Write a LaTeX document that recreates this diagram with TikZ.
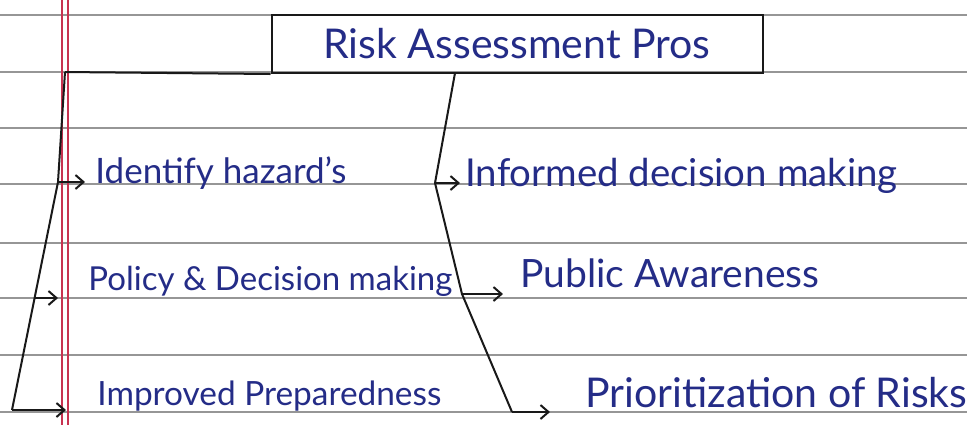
\documentclass[tikz,border=0pt]{standalone}
\usepackage{fontspec}
\setmainfont{Lato}
\usetikzlibrary{arrows.meta}
\definecolor{ink}{RGB}{36,44,135}
\definecolor{rulegray}{RGB}{150,150,150}
\definecolor{marginred}{RGB}{200,50,80}
\definecolor{pen}{RGB}{25,25,25}
\begin{document}
\begin{tikzpicture}[x=0.5pt,y=-0.5pt,
  ruling/.style={rulegray, line width=1pt},
  conn/.style={pen, line width=1pt},
  arr/.style={conn, -{Straight Barb[length=4pt,width=7pt]}},
  item/.style={anchor=base west, inner sep=0pt, text=ink},
  fs/.style={font=\fontsize{#1}{#1}\selectfont},
]
\fill[white] (0,0) rectangle (967,425);
\useasboundingbox (0,0) rectangle (967,425);
\foreach \yy in {15,72,128,184,243,298,355,412} \draw[ruling] (0,\yy) -- (967,\yy);
\draw[marginred, line width=0.8pt] (62,0) -- (62,425) (68,0) -- (68,425);

\node[draw=pen, line width=1pt, minimum width=245.5pt, minimum height=29pt, inner sep=0pt,
      text=ink, fs=20.5] (title) at (517,44) {Risk Assessment Pros};

\node[item, fs=17.5] (ident) at (95,183) {Identify hazard's};
\node[item, fs=19.2] (inform) at (465,186) {Informed decision making};
\node[item, fs=16.5] (policy) at (88,290) {Policy \& Decision making};
\node[item, fs=19.5] (public) at (520,287) {Public Awareness};
\node[item, fs=16.7] (improved) at (97,405) {Improved Preparedness};
\node[item, fs=20.5] (priority) at (585,407) {Prioritization of Risks};

\coordinate (lt) at (65,72);
\coordinate (lj1) at (58,182);
\coordinate (lj2) at (35,298);
\coordinate (lb) at (12,410);
\coordinate (rt) at (455,73);
\coordinate (rj1) at (435,183);
\coordinate (rj2) at (462,294);
\coordinate (rb) at (512,412);

\draw[conn] (lt) -- (title.south west);
\draw[conn] (lt) -- (lj1) -- (lb);
\draw[arr, shorten >=5pt] (lj1) -- (lj1 -| ident.west);
\draw[arr, shorten >=15pt] (lj2) -- (lj2 -| policy.west);
\draw[arr, shorten >=15.5pt] (lb) -- (lb -| improved.west);

\draw[conn] (rt) -- (rj1) -- (rj2) -- (rb);
\draw[arr, shorten >=2.5pt] (rj1) -- (rj1 -| inform.west);
\draw[arr, shorten >=8.5pt] (rj2) -- (rj2 -| public.west);
\draw[arr, shorten >=17.5pt] (rb) -- (rb -| priority.west);
\end{tikzpicture}
\end{document}
